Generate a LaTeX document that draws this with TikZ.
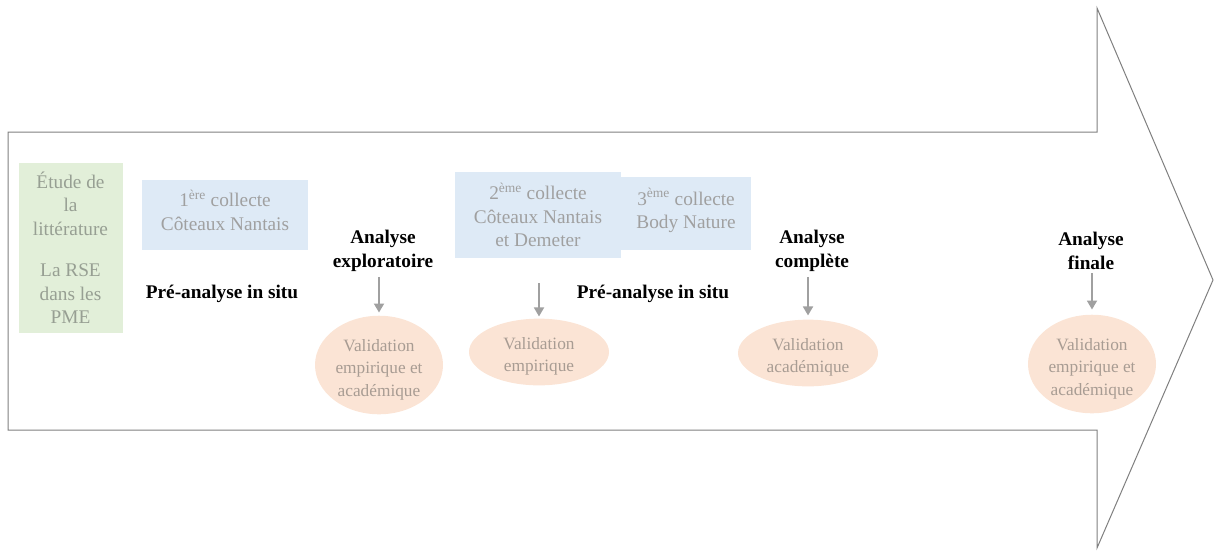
\documentclass[tikz,border=0pt]{standalone}
\usepackage{fontspec}
\setmainfont{Liberation Serif}
\usetikzlibrary{shapes.geometric,arrows.meta}
\definecolor{outl}{HTML}{7F7F7F}
\definecolor{greenf}{HTML}{E2EFD9}
\definecolor{bluef}{HTML}{DEEAF6}
\definecolor{peachf}{HTML}{FBE4D5}
\definecolor{boxtxt}{HTML}{A0A0A0}
\definecolor{greentxt}{HTML}{979F93}
\definecolor{elltxt}{HTML}{A89C93}
\definecolor{arrg}{HTML}{A0A0A0}
\newcommand{\topstrut}{\rule{0pt}{21pt}}
\newcommand{\botstrut}{\rule[-10pt]{0pt}{10pt}}
\tikzset{
  x=1pt, y=-1pt,
  bigtxt/.style={font=\fontsize{19.3}{23.5}\selectfont, align=center, inner sep=0pt},
  greenbox/.style={bigtxt, fill=greenf, text=greentxt, minimum width=104pt, minimum height=170pt},
  bluebox/.style={bigtxt, fill=bluef, text=boxtxt},
  lab/.style={font=\fontsize{19.3}{24}\selectfont\bfseries, align=center, inner sep=0pt, text=black},
  valid/.style={ellipse, fill=peachf, text=elltxt, inner sep=0pt, align=center,
                font=\fontsize{17.3}{22.5}\selectfont},
  garrow/.style={draw=arrg, line width=1.8pt, -{Triangle[width=10pt,length=9pt]}},
}
\begin{document}
\begin{tikzpicture}
\useasboundingbox (0,0) rectangle (1214,550);
% big arrow
\draw[outl, line width=1pt, line join=miter]
  (8,132) -- (1097,132) -- (1097,8) -- (1213,280) -- (1097,548) -- (1097,430) -- (8,430) -- cycle;

\node[greenbox] (lit) at (70.5,247.5) {Étude de\\la\\littérature\\[18pt]La RSE\\dans les\\PME};

\node[bluebox, minimum width=166pt, minimum height=70pt] (c1) at (225,215)
  {1\textsuperscript{ère} collecte\\Côteaux Nantais\botstrut};
\node[bluebox, minimum width=166pt, minimum height=86pt] (c2) at (538,215)
  {2\textsuperscript{ème} collecte\\Côteaux Nantais\\et Demeter};
\node[bluebox, minimum width=130pt, minimum height=73pt] (c3) at (686,213.5)
  {3\textsuperscript{ème} collecte\\Body Nature\botstrut};

\node[lab] (p1) at (222,294) {Pré-analyse in situ};
\node[lab] (p2) at (653,294) {Pré-analyse in situ};

\node[lab] (a1) at (383,251) {Analyse\\exploratoire};
\node[lab] (a3) at (812,251) {Analyse\\complète};
\node[lab] (a4) at (1091,251) {Analyse\\finale};

\node[valid, minimum width=128pt, minimum height=96pt] (e1) at (379,365)
  {\topstrut Validation\\empirique et\\académique};
\node[valid, minimum width=140pt, minimum height=66pt] (e2) at (539,352)
  {\topstrut Validation\\empirique};
\node[valid, minimum width=140pt, minimum height=64pt] (e3) at (808,353)
  {\topstrut Validation\\académique};
\node[valid, minimum width=128pt, minimum height=93pt] (e4) at (1092,364)
  {\topstrut Validation\\empirique et\\académique};

\draw[garrow, shorten <=5pt, shorten >=3pt] (a1.south -| e1.north) -- (e1.north);
\draw[garrow, shorten <=25pt, shorten >=2pt] (c2.south -| e2.north) -- (e2.north);
\draw[garrow, shorten <=5pt, shorten >=4pt] (a3.south -| e3.north) -- (e3.north);
\draw[garrow, shorten <=3pt, shorten >=5pt] (a4.south -| e4.north) -- (e4.north);
\end{tikzpicture}
\end{document}
